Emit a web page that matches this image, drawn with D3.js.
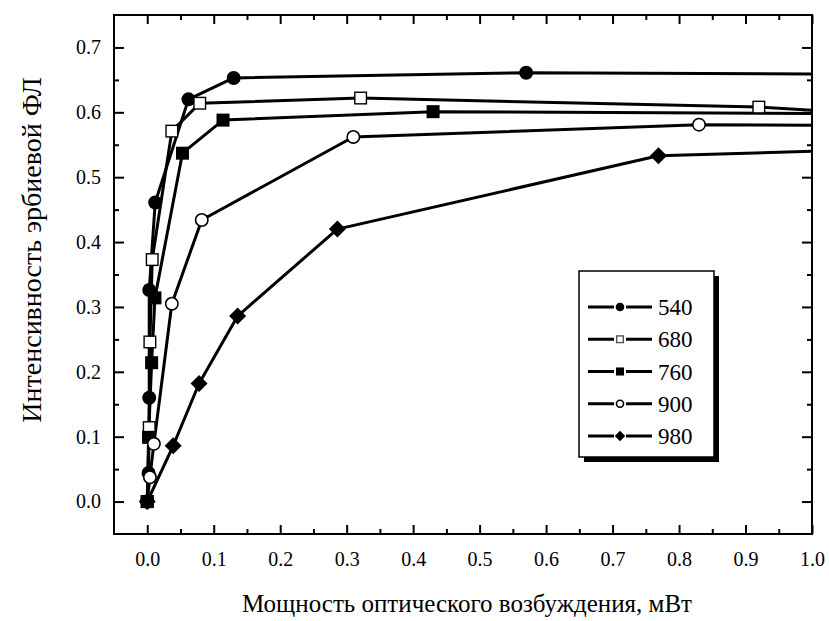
<!DOCTYPE html>
<html>
<head>
<meta charset="utf-8">
<script src="https://cdn.jsdelivr.net/npm/d3@7"></script>
<style>
  html, body { margin: 0; padding: 0; background: #fff; }
  svg { display: block; }
  svg text { fill: #000; }
</style>
</head>
<body>
<svg id="chart" width="829" height="621"></svg>
<script>
// Excitation power, mW, and erbium PL intensity for each excitation wavelength
const seriesNames = ["540", "680", "760", "900", "980"];
const x540 = [0, 0.002, 0.003, 0.003, 0.012, 0.062, 0.13, 0.57];
const y540 = [0, 0.044, 0.16, 0.326, 0.461, 0.62, 0.653, 0.661];
const x680 = [0, 0.003, 0.004, 0.0075, 0.037, 0.079, 0.321, 0.92];
const y680 = [0, 0.114, 0.246, 0.373, 0.571, 0.614, 0.622, 0.608];
const x760 = [0, 0.002, 0.0066, 0.0116, 0.053, 0.114, 0.43];
const y760 = [0, 0.099, 0.214, 0.314, 0.537, 0.588, 0.601];
const x900 = [0, 0.004, 0.01, 0.037, 0.082, 0.31, 0.83];
const y900 = [0, 0.0375, 0.089, 0.305, 0.434, 0.562, 0.581];
const x980 = [0, 0.039, 0.078, 0.136, 0.286, 0.769];
const y980 = [0, 0.086, 0.182, 0.286, 0.42, 0.533];
// level at which each curve leaves the plot at the right border (x = 1.0)
const edgeY = [0.659, 0.603, 0.598, 0.58, 0.54];

const xTicks = [0.0, 0.1, 0.2, 0.3, 0.4, 0.5, 0.6, 0.7, 0.8, 0.9, 1.0];
const yTicks = [0.0, 0.1, 0.2, 0.3, 0.4, 0.5, 0.6, 0.7];
const xTitle = "Мощность оптического возбуждения, мВт";
const yTitle = "Интенсивность эрбиевой ФЛ";

const xs = [x540, x680, x760, x900, x980];
const ys = [y540, y680, y760, y900, y980];
const markerKinds = ["circleFilled", "squareOpen", "squareFilled", "circleOpen", "diamond"];

const serif = '"Liberation Serif", Tinos, "Times New Roman", Times, "DejaVu Serif", serif';
const svg = d3.select("#chart").attr("font-family", serif);
const L = 114, R = 812, T = 15, B = 534;

const x = d3.scaleLinear().domain([-0.05, 1.0]).range([L, R]);
const y = d3.scaleLinear().domain([-0.05, 0.75]).range([B, T]);

svg.append("defs").append("clipPath").attr("id", "plotClip")
  .append("rect").attr("x", L).attr("y", T).attr("width", R - L).attr("height", B - T);

// Axes: inward ticks on all four sides, minor ticks halfway
const xMinor = d3.range(0.05, 1.0, 0.1);
const yMinor = d3.range(0.05, 0.7, 0.1);

function tickAxis(axisGen, transform, showLabels) {
  const g = svg.append("g").attr("transform", transform).call(axisGen)
    .attr("font-family", serif).attr("font-size", 20);
  g.select(".domain").remove();
  g.selectAll("line").attr("stroke", "#000").attr("stroke-width", 2);
  g.selectAll("text").attr("fill", "#000");
  if (!showLabels) g.selectAll("text").remove();
  return g;
}

// bottom
tickAxis(d3.axisBottom(x).tickValues(xTicks).tickFormat(d3.format(".1f")).tickSizeInner(-9).tickPadding(18),
  `translate(0,${B})`, true);
tickAxis(d3.axisBottom(x).tickValues(xMinor).tickSizeInner(-5).tickFormat(""), `translate(0,${B})`, false);
// top
tickAxis(d3.axisTop(x).tickValues(xTicks).tickSizeInner(-9).tickFormat(""), `translate(0,${T})`, false);
tickAxis(d3.axisTop(x).tickValues(xMinor).tickSizeInner(-5).tickFormat(""), `translate(0,${T})`, false);
// left
tickAxis(d3.axisLeft(y).tickValues(yTicks).tickFormat(d3.format(".1f")).tickSizeInner(-10).tickPadding(13),
  `translate(${L},0)`, true);
tickAxis(d3.axisLeft(y).tickValues(yMinor).tickSizeInner(-5).tickFormat(""), `translate(${L},0)`, false);
// right
tickAxis(d3.axisRight(y).tickValues(yTicks).tickSizeInner(-10).tickFormat(""), `translate(${R},0)`, false);
tickAxis(d3.axisRight(y).tickValues(yMinor).tickSizeInner(-5).tickFormat(""), `translate(${R},0)`, false);

// frame
svg.append("rect").attr("x", L).attr("y", T).attr("width", R - L).attr("height", B - T)
  .attr("fill", "none").attr("stroke", "#000").attr("stroke-width", 2);

// curves
const line = d3.line().x(d => x(d[0])).y(d => y(d[1]));
const plot = svg.append("g").attr("clip-path", "url(#plotClip)");

seriesNames.forEach((name, i) => {
  const pts = xs[i].map((v, j) => [v, ys[i][j]]);
  pts.push([x.domain()[1], edgeY[i]]);
  plot.append("path").datum(pts)
    .attr("d", line).attr("fill", "none")
    .attr("stroke", "#000").attr("stroke-width", 3).attr("stroke-linejoin", "round");
});

function drawMarker(g, kind, cx, cy, s) {
  switch (kind) {
    case "circleFilled":
      g.append("circle").attr("cx", cx).attr("cy", cy).attr("r", 7 * s).attr("fill", "#000");
      break;
    case "circleOpen":
      g.append("circle").attr("cx", cx).attr("cy", cy).attr("r", 7 * s - 0.8)
        .attr("fill", "#fff").attr("stroke", "#000").attr("stroke-width", 1.6);
      break;
    case "squareFilled":
      g.append("rect").attr("x", cx - 6.5 * s).attr("y", cy - 6.5 * s)
        .attr("width", 13 * s).attr("height", 13 * s).attr("fill", "#000");
      break;
    case "squareOpen":
      g.append("rect").attr("x", cx - 6.5 * s + 0.7).attr("y", cy - 6.5 * s + 0.7)
        .attr("width", 13 * s - 1.4).attr("height", 13 * s - 1.4)
        .attr("fill", "#fff").attr("stroke", s < 1 ? "#555" : "#000").attr("stroke-width", 1.4);
      break;
    case "diamond": {
      const h = 8.5 * s;
      g.append("path")
        .attr("d", `M${cx},${cy - h}L${cx + h},${cy}L${cx},${cy + h}L${cx - h},${cy}Z`)
        .attr("fill", "#000");
      break;
    }
  }
}

const marks = svg.append("g");
seriesNames.forEach((name, i) => {
  xs[i].forEach((v, j) => drawMarker(marks, markerKinds[i], x(v), y(ys[i][j]), 1));
});

// legend with drop shadow
const lg = { x: 579, y: 271, w: 135, h: 186 };
svg.append("rect").attr("x", lg.x + 5).attr("y", lg.y + 5).attr("width", lg.w).attr("height", lg.h).attr("fill", "#000");
svg.append("rect").attr("x", lg.x).attr("y", lg.y).attr("width", lg.w).attr("height", lg.h)
  .attr("fill", "#fff").attr("stroke", "#000").attr("stroke-width", 1.5);
const rowY = d3.scalePoint().domain(seriesNames).range([lg.y + 36, lg.y + 165]);
seriesNames.forEach((name, i) => {
  const cy = rowY(name);
  svg.append("line").attr("x1", 588).attr("x2", 652).attr("y1", cy).attr("y2", cy)
    .attr("stroke", "#000").attr("stroke-width", 3);
  const pad = svg.append("g");
  pad.append("rect").attr("x", 614).attr("y", cy - 6).attr("width", 12).attr("height", 12).attr("fill", "#fff");
  drawMarker(pad, markerKinds[i], 620, cy, 0.62);
  svg.append("text").attr("x", 658).attr("y", cy + 8).attr("font-size", 23).text(name);
});

// axis titles
svg.append("text").attr("x", 467).attr("y", 612).attr("text-anchor", "middle")
  .attr("font-size", 25).text(xTitle);
svg.append("text").attr("transform", `translate(41,250) rotate(-90)`)
  .attr("text-anchor", "middle").attr("font-size", 28).text(yTitle);
</script>
</body>
</html>
